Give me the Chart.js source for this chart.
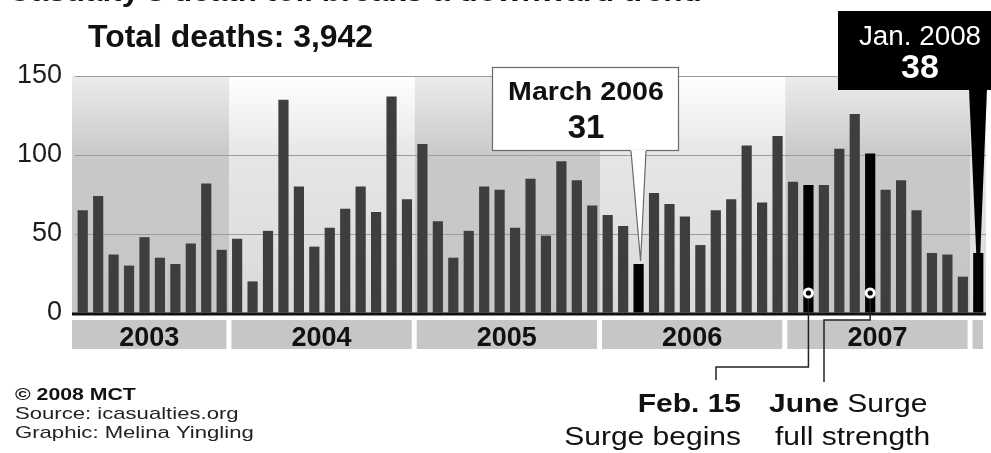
<!DOCTYPE html>
<html lang="en">
<head>
  <meta charset="UTF-8">
  <title>Monthly U.S. deaths in Iraq</title>
  <script src="https://cdn.jsdelivr.net/npm/chart.js"></script>
  <style>
    body { margin: 0; background: #fff; }
    canvas { display: block; }
  </style>
</head>
<body>
  <canvas id="deathsChart" width="991" height="453"></canvas>

  <script>
    // months, March 2003 .. January 2008
    const months = [
      'Mar 2003', 'Apr 2003', 'May 2003', 'Jun 2003', 'Jul 2003', 'Aug 2003', 'Sep 2003', 'Oct 2003', 'Nov 2003', 'Dec 2003',
      'Jan 2004', 'Feb 2004', 'Mar 2004', 'Apr 2004', 'May 2004', 'Jun 2004', 'Jul 2004', 'Aug 2004', 'Sep 2004', 'Oct 2004', 'Nov 2004', 'Dec 2004',
      'Jan 2005', 'Feb 2005', 'Mar 2005', 'Apr 2005', 'May 2005', 'Jun 2005', 'Jul 2005', 'Aug 2005', 'Sep 2005', 'Oct 2005', 'Nov 2005', 'Dec 2005',
      'Jan 2006', 'Feb 2006', 'Mar 2006', 'Apr 2006', 'May 2006', 'Jun 2006', 'Jul 2006', 'Aug 2006', 'Sep 2006', 'Oct 2006', 'Nov 2006', 'Dec 2006',
      'Jan 2007', 'Feb 2007', 'Mar 2007', 'Apr 2007', 'May 2007', 'Jun 2007', 'Jul 2007', 'Aug 2007', 'Sep 2007', 'Oct 2007', 'Nov 2007', 'Dec 2007',
      'Jan 2008'
    ];

    // deaths per month
    const deaths = [
      65, 74, 37, 30, 48, 35, 31, 44, 82, 40,
      47, 20, 52, 135, 80, 42, 54, 66, 80, 64, 137, 72,
      107, 58, 35, 52, 80, 78, 54, 85, 49, 96, 84, 68,
      62, 55, 31, 76, 69, 61, 43, 65, 72, 106, 70, 112,
      83, 81, 81, 104, 126, 101, 78, 84, 65, 38, 37, 23,
      38
    ];

    // black bars
    const highlighted = ['Mar 2006', 'Feb 2007', 'Jun 2007', 'Jan 2008'];

    // year strips under the axis
    const years = ['2003', '2004', '2005', '2006', '2007', ''];
    const monthsPerYear = [10, 12, 12, 12, 12, 1];

    const yTicks = [0, 50, 100, 150];

    const FONT = "'Liberation Sans', Arial, Helvetica, sans-serif";

    // text with a little horizontal stretch like the print graphic
    function txt(ctx, s, x, y, font, color, align, sx) {
      ctx.save();
      ctx.font = font;
      ctx.fillStyle = color;
      ctx.textAlign = 'left';
      ctx.textBaseline = 'alphabetic';
      const w = ctx.measureText(s).width * sx;
      const left = align === 'center' ? x - w / 2 : align === 'right' ? x - w : x;
      ctx.translate(left, y);
      ctx.scale(sx, 1);
      ctx.fillText(s, 0, 0);
      ctx.restore();
      return w;
    }

    // shaded year bands + year strips
    const bandsPlugin = {
      id: 'bands',
      beforeDraw(chart) {
        const { ctx, chartArea, scales } = chart;
        const xs = scales.x, ys = scales.y;
        const half = (xs.getPixelForValue(1) - xs.getPixelForValue(0)) / 2;
        ctx.save();
        ctx.fillStyle = '#fff';
        ctx.fillRect(0, 0, chart.width, chart.height);

        let start = 0;
        years.forEach((yr, i) => {
          const end = start + monthsPerYear[i] - 1;
          let x0 = xs.getPixelForValue(start) - half;
          let x1 = xs.getPixelForValue(end) + half;
          if (i === 0) x0 = chartArea.left - 3;
          const dark = i % 2 === 0;
          const g = ctx.createLinearGradient(0, chartArea.top, 0, chartArea.bottom);
          const mid = (ys.getPixelForValue(100) - chartArea.top) / (chartArea.bottom - chartArea.top);
          if (dark) {
            g.addColorStop(0, '#ececec');
            g.addColorStop(mid, '#c9c9c9');
            g.addColorStop(1, '#c6c6c6');
          } else {
            g.addColorStop(0, '#ffffff');
            g.addColorStop(mid, '#e6e6e6');
            g.addColorStop(1, '#d9d9d9');
          }
          ctx.fillStyle = g;
          ctx.fillRect(x0, chartArea.top, x1 - x0, chartArea.bottom - chartArea.top);

          // strip under the axis
          const sx0 = i === 0 ? chartArea.left - 3 : x0 + 2;
          const sx1 = Math.min(x1 - 3, chartArea.right);
          ctx.fillStyle = '#c6c6c6';
          ctx.fillRect(sx0, 320, sx1 - sx0, 29);
          if (yr) {
            txt(ctx, yr, (sx0 + sx1) / 2, 346, 'bold 27px ' + FONT, '#111', 'center', 1);
          }
          start = end + 1;
        });
        ctx.restore();
      },
      afterDatasetsDraw(chart) {
        const { ctx, chartArea, scales } = chart;
        const y0 = scales.y.getPixelForValue(0) + 1;
        ctx.save();
        ctx.strokeStyle = '#111';
        ctx.lineWidth = 3;
        ctx.beginPath();
        ctx.moveTo(chartArea.left - 3, y0);
        ctx.lineTo(chartArea.right, y0);
        ctx.stroke();
        ctx.restore();
      }
    };

    // callouts, surge markers and footer texts
    const notesPlugin = {
      id: 'notes',
      afterDraw(chart) {
        const { ctx, scales } = chart;
        const xs = scales.x, ys = scales.y;
        const barX = lbl => xs.getPixelForValue(months.indexOf(lbl));
        const barTop = lbl => ys.getPixelForValue(deaths[months.indexOf(lbl)]);
        ctx.save();

        // cut-off headline at the very top
        txt(ctx, "Casualty's death toll breaks a downward trend", 8, 1, 'bold 30px ' + FONT, '#111', 'left', 1.05);

        txt(ctx, 'Total deaths: 3,942', 88, 47, 'bold 31px ' + FONT, '#111', 'left', 1.03);

        // March 2006 box
        const mx = barX('Mar 2006'), my = barTop('Mar 2006');
        ctx.fillStyle = '#fff';
        ctx.strokeStyle = '#6a6a6a';
        ctx.lineWidth = 1.2;
        ctx.fillRect(492, 67, 187, 84);
        ctx.strokeRect(492.5, 67.5, 186, 83);
        ctx.beginPath();
        ctx.moveTo(631, 150);
        ctx.lineTo(mx + 2, my - 3);
        ctx.lineTo(646, 150);
        ctx.closePath();
        ctx.fill();
        ctx.beginPath();
        ctx.moveTo(631, 151);
        ctx.lineTo(mx + 2, my - 3);
        ctx.lineTo(646, 151);
        ctx.stroke();
        txt(ctx, 'March 2006', 586, 100, 'bold 26px ' + FONT, '#111', 'center', 1.1);
        txt(ctx, '31', 586, 138, 'bold 33px ' + FONT, '#111', 'center', 1);

        // Jan. 2008 box
        const jx = barX('Jan 2008'), jy = barTop('Jan 2008');
        ctx.fillStyle = '#000';
        ctx.fillRect(838, 11, 153, 79);
        ctx.beginPath();
        ctx.moveTo(969, 89);
        ctx.lineTo(987, 89);
        ctx.lineTo(jx + 2, jy + 1);
        ctx.lineTo(jx - 2, jy + 1);
        ctx.closePath();
        ctx.fill();
        txt(ctx, 'Jan. 2008', 920, 45, '27px ' + FONT, '#fff', 'center', 1.03);
        txt(ctx, '38', 920, 78, 'bold 34px ' + FONT, '#fff', 'center', 1);

        // surge markers
        const fx = barX('Feb 2007'), ux = barX('Jun 2007');
        ctx.strokeStyle = '#222';
        ctx.lineWidth = 1.5;
        ctx.beginPath();
        ctx.moveTo(fx, 299); ctx.lineTo(fx, 367); ctx.lineTo(716, 367); ctx.lineTo(716, 380);
        ctx.moveTo(ux, 299); ctx.lineTo(ux, 320); ctx.lineTo(824, 320); ctx.lineTo(824, 382);
        ctx.stroke();
        [fx, ux].forEach(x => {
          ctx.fillStyle = '#fff';
          ctx.beginPath(); ctx.arc(x, 293, 5.5, 0, Math.PI * 2); ctx.fill();
          ctx.fillStyle = '#000';
          ctx.beginPath(); ctx.arc(x, 293, 2.6, 0, Math.PI * 2); ctx.fill();
        });

        txt(ctx, 'Feb. 15', 741, 412, 'bold 25px ' + FONT, '#111', 'right', 1.2);
        txt(ctx, 'Surge begins', 741, 445, '25px ' + FONT, '#111', 'right', 1.2);
        const w = txt(ctx, 'June', 769, 412, 'bold 25px ' + FONT, '#111', 'left', 1.2);
        txt(ctx, ' Surge', 769 + w, 412, '25px ' + FONT, '#111', 'left', 1.2);
        txt(ctx, 'full strength', 775, 445, '25px ' + FONT, '#111', 'left', 1.2);

        // credits
        txt(ctx, '\u00a9 2008 MCT', 15, 400, 'bold 17px ' + FONT, '#111', 'left', 1.25);
        txt(ctx, 'Source: icasualties.org', 15, 419, '17px ' + FONT, '#222', 'left', 1.3);
        txt(ctx, 'Graphic: Melina Yingling', 15, 438, '17px ' + FONT, '#222', 'left', 1.3);
        ctx.restore();
      }
    };

    const ctx = document.getElementById('deathsChart').getContext('2d');

    const deathsChart = new Chart(ctx, {
      type: 'bar',
      data: {
        labels: months,
        datasets: [{
          label: 'U.S. deaths',
          data: deaths,
          backgroundColor: months.map(m => highlighted.includes(m) ? '#000000' : '#3e3e3e'),
          borderWidth: 0,
          barPercentage: 0.66,
          categoryPercentage: 1
        }]
      },
      options: {
        responsive: false,
        animation: false,
        devicePixelRatio: 1,
        layout: { padding: { top: 76, right: 5, bottom: 140, left: 0 } },
        plugins: {
          legend: { display: false },
          tooltip: { enabled: false }
        },
        scales: {
          x: { display: false, offset: true },
          y: {
            min: 0,
            max: 150,
            afterBuildTicks: s => { s.ticks = yTicks.map(v => ({ value: v })); },
            afterFit: s => { s.width = 75; },
            border: { display: false },
            grid: {
              drawTicks: false,
              color: c => c.tick.value === 0 ? 'rgba(0,0,0,0)' : '#9c9c9c',
              lineWidth: 1
            },
            ticks: {
              padding: 13,
              color: '#1c1c1c',
              font: { family: FONT, size: 27 }
            }
          }
        }
      },
      plugins: [bandsPlugin, notesPlugin]
    });
  </script>
</body>
</html>
